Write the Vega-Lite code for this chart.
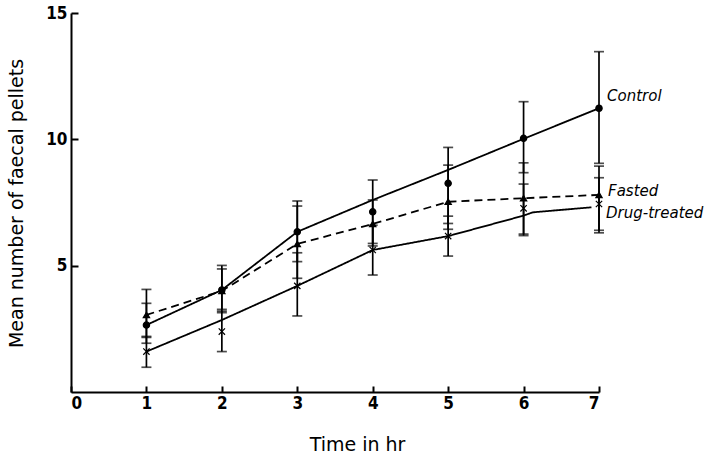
{
  "$schema": "https://vega.github.io/schema/vega-lite/v6.json",
  "width": 528,
  "height": 379,
  "autosize": {"type": "none"},
  "padding": {"left": 71, "top": 13, "right": 115, "bottom": 67},
  "background": "white",
  "config": {
    "view": {"stroke": null},
    "axis": {
      "grid": false,
      "domainColor": "black",
      "domainWidth": 2,
      "tickColor": "black",
      "tickWidth": 2,
      "labelColor": "black",
      "labelFont": "DejaVu Sans Condensed",
      "labelFontWeight": "bold",
      "labelFontSize": 17,
      "titleColor": "black",
      "titleFont": "DejaVu Sans",
      "titleFontWeight": "normal",
      "titleFontSize": 19
    }
  },
  "datasets": {
    "means": [
      {"t": 1, "series": "Control", "mean": 2.65, "lo": 1.93, "hi": 3.51},
      {"t": 2, "series": "Control", "mean": 4.04, "lo": 3.14, "hi": 5.01},
      {"t": 3, "series": "Control", "mean": 6.34, "lo": 5.16, "hi": 7.56},
      {"t": 4, "series": "Control", "mean": 7.13, "lo": 5.88, "hi": 8.39},
      {"t": 5, "series": "Control", "mean": 8.26, "lo": 6.67, "hi": 9.68},
      {"t": 6, "series": "Control", "mean": 10.04, "lo": 8.68, "hi": 11.49},
      {"t": 7, "series": "Control", "mean": 11.23, "lo": 9.05, "hi": 13.47},
      {"t": 1, "series": "Fasted", "mean": 3.05, "lo": 2.16, "hi": 4.06},
      {"t": 2, "series": "Fasted", "mean": 4.0, "lo": 3.27, "hi": 4.87},
      {"t": 3, "series": "Fasted", "mean": 5.86, "lo": 4.5, "hi": 7.36},
      {"t": 4, "series": "Fasted", "mean": 6.65, "lo": 5.78, "hi": 7.6},
      {"t": 5, "series": "Fasted", "mean": 7.53, "lo": 6.44, "hi": 8.98},
      {"t": 6, "series": "Fasted", "mean": 7.67, "lo": 6.19, "hi": 9.07},
      {"t": 7, "series": "Fasted", "mean": 7.8, "lo": 6.3, "hi": 8.94},
      {"t": 1, "series": "Drug-treated", "mean": 1.6, "lo": 0.98, "hi": 2.2},
      {"t": 2, "series": "Drug-treated", "mean": 2.39, "lo": 1.6, "hi": 3.2},
      {"t": 3, "series": "Drug-treated", "mean": 4.2, "lo": 3.01, "hi": 5.51},
      {"t": 4, "series": "Drug-treated", "mean": 5.62, "lo": 4.63, "hi": 6.6},
      {"t": 5, "series": "Drug-treated", "mean": 6.17, "lo": 5.38, "hi": 6.96},
      {"t": 6, "series": "Drug-treated", "mean": 7.27, "lo": 6.25, "hi": 8.23},
      {"t": 7, "series": "Drug-treated", "mean": 7.44, "lo": 6.4, "hi": 8.48}
    ],
    "lines": [
      {"t": 1, "series": "Control", "v": 2.65},
      {"t": 2, "series": "Control", "v": 4.04},
      {"t": 3, "series": "Control", "v": 6.34},
      {"t": 4, "series": "Control", "v": 7.6},
      {"t": 5, "series": "Control", "v": 8.79},
      {"t": 6, "series": "Control", "v": 10.02},
      {"t": 7, "series": "Control", "v": 11.23},
      {"t": 1, "series": "Fasted", "v": 3.05},
      {"t": 2, "series": "Fasted", "v": 4.0},
      {"t": 3, "series": "Fasted", "v": 5.86},
      {"t": 4, "series": "Fasted", "v": 6.65},
      {"t": 5, "series": "Fasted", "v": 7.53},
      {"t": 6, "series": "Fasted", "v": 7.67},
      {"t": 7, "series": "Fasted", "v": 7.8},
      {"t": 1, "series": "Drug-treated", "v": 1.6},
      {"t": 2, "series": "Drug-treated", "v": 2.85},
      {"t": 3, "series": "Drug-treated", "v": 4.2},
      {"t": 4, "series": "Drug-treated", "v": 5.62},
      {"t": 5, "series": "Drug-treated", "v": 6.17},
      {"t": 6, "series": "Drug-treated", "v": 6.98},
      {"t": 6.12, "series": "Drug-treated", "v": 7.11},
      {"t": 6.9, "series": "Drug-treated", "v": 7.31}
    ]
  },
  "layer": [
    {
      "data": {"name": "lines"},
      "mark": {"type": "line", "color": "black", "strokeWidth": 1.8},
      "encoding": {
        "x": {"field": "t", "type": "quantitative", "scale": {"domain": [0, 7], "nice": false},
          "axis": {"values": [0, 1, 2, 3, 4, 5, 6, 7], "format": "d", "title": "Time in hr", "tickSize": -6, "labelPadding": 9, "titleX": 286, "titleY": 52, "titleBaseline": "middle", "titleAlign": "center"}},
        "y": {"field": "v", "type": "quantitative", "scale": {"domain": [0, 15], "nice": false},
          "axis": {"values": [5, 10, 15], "format": "d", "title": "Mean number of faecal pellets", "tickSize": -7, "labelPadding": 11, "titleX": -55, "titleY": 190, "titleBaseline": "middle", "titleAlign": "center", "titleAngle": -90}},
        "strokeDash": {"field": "series", "type": "nominal", "scale": {"domain": ["Control", "Fasted", "Drug-treated"], "range": [[1, 0], [8, 5], [1, 0]]}, "legend": null},
        "detail": {"field": "series"},
        "order": {"field": "t", "type": "quantitative"}
      }
    },
    {
      "data": {"name": "means"},
      "mark": {"type": "rule", "color": "black", "strokeWidth": 1.7},
      "encoding": {
        "x": {"field": "t", "type": "quantitative"},
        "y": {"field": "lo", "type": "quantitative"},
        "y2": {"field": "hi"}
      }
    },
    {
      "data": {"name": "means"},
      "mark": {"type": "tick", "orient": "horizontal", "color": "black", "size": 10, "thickness": 1.7},
      "encoding": {
        "x": {"field": "t", "type": "quantitative"},
        "y": {"field": "lo", "type": "quantitative"}
      }
    },
    {
      "data": {"name": "means"},
      "mark": {"type": "tick", "orient": "horizontal", "color": "black", "size": 10, "thickness": 1.7},
      "encoding": {
        "x": {"field": "t", "type": "quantitative"},
        "y": {"field": "hi", "type": "quantitative"}
      }
    },
    {
      "data": {"name": "means"},
      "mark": {"type": "point", "filled": true, "color": "black", "stroke": "black", "strokeWidth": 1.2, "opacity": 1},
      "encoding": {
        "x": {"field": "t", "type": "quantitative"},
        "y": {"field": "mean", "type": "quantitative"},
        "shape": {"field": "series", "type": "nominal", "scale": {"domain": ["Control", "Fasted", "Drug-treated"], "range": ["circle", "triangle-up", "M-1,-1L1,1M1,-1L-1,1"]}, "legend": null},
        "size": {"field": "series", "type": "nominal", "scale": {"domain": ["Control", "Fasted", "Drug-treated"], "range": [40, 40, 20]}, "legend": null}
      }
    },
    {
      "data": {"name": "means"},
      "transform": [{"filter": "datum.t == 7 && datum.series == 'Control'"}],
      "mark": {"type": "text", "align": "left", "baseline": "middle", "dx": 8, "dy": -12, "font": "DejaVu Sans", "fontStyle": "italic", "fontSize": 15, "color": "black"},
      "encoding": {
        "x": {"field": "t", "type": "quantitative"},
        "y": {"field": "mean", "type": "quantitative"},
        "text": {"field": "series"}
      }
    },
    {
      "data": {"name": "means"},
      "transform": [{"filter": "datum.t == 7 && datum.series == 'Fasted'"}],
      "mark": {"type": "text", "align": "left", "baseline": "middle", "dx": 9, "dy": -4, "font": "DejaVu Sans", "fontStyle": "italic", "fontSize": 15, "color": "black"},
      "encoding": {
        "x": {"field": "t", "type": "quantitative"},
        "y": {"field": "mean", "type": "quantitative"},
        "text": {"field": "series"}
      }
    },
    {
      "data": {"name": "means"},
      "transform": [{"filter": "datum.t == 7 && datum.series == 'Drug-treated'"}],
      "mark": {"type": "text", "align": "left", "baseline": "middle", "dx": 7, "dy": 9, "font": "DejaVu Sans", "fontStyle": "italic", "fontSize": 15, "color": "black"},
      "encoding": {
        "x": {"field": "t", "type": "quantitative"},
        "y": {"field": "mean", "type": "quantitative"},
        "text": {"field": "series"}
      }
    }
  ]
}
